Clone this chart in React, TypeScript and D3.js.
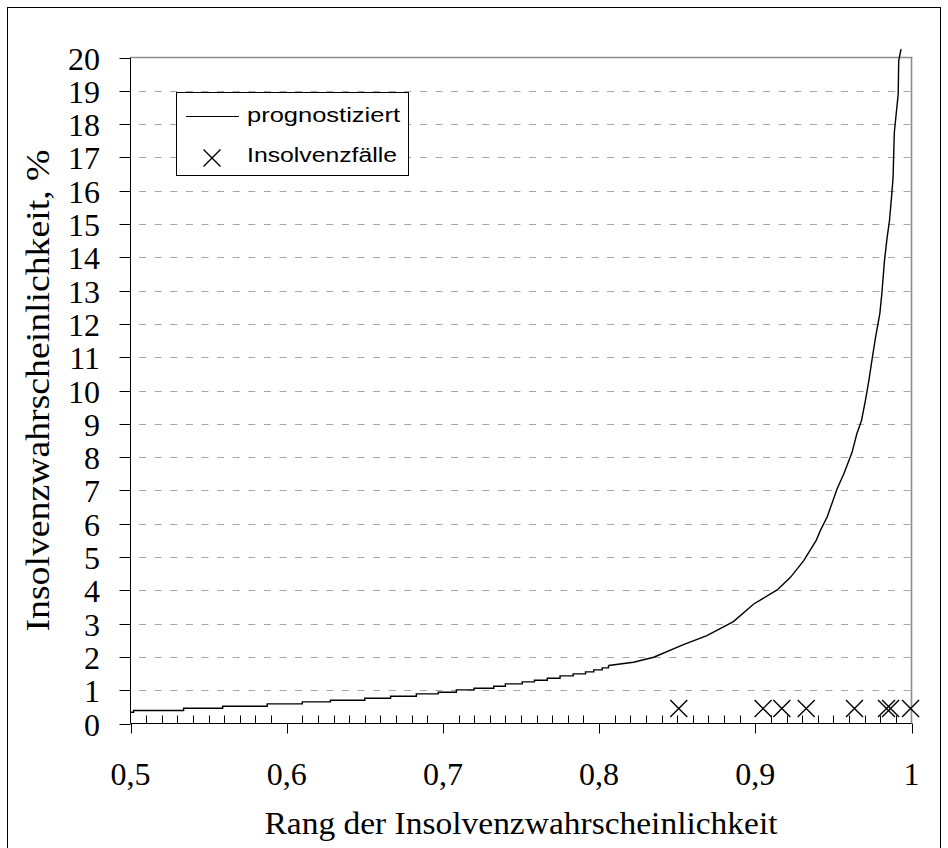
import React from "react";
import * as d3 from "d3";

// Step part of the predicted curve (rank, probability %)
const stepRank = [0.5, 0.502, 0.534, 0.559, 0.5875, 0.61, 0.628, 0.65, 0.6665, 0.683, 0.697, 0.7086, 0.72, 0.7326, 0.74, 0.7508, 0.7586, 0.7668, 0.775, 0.7834, 0.7913, 0.7966, 0.802, 0.806];
const stepProb = [0.34, 0.39, 0.46, 0.52, 0.59, 0.65, 0.70, 0.76, 0.82, 0.89, 0.94, 1.01, 1.06, 1.12, 1.19, 1.25, 1.30, 1.36, 1.43, 1.49, 1.55, 1.61, 1.67, 1.74];
// Steep upper part of the predicted curve
const upperRank = [0.806, 0.822, 0.835, 0.854, 0.869, 0.886, 0.899, 0.914, 0.9225, 0.931, 0.939, 0.9417, 0.946, 0.9524, 0.9567, 0.962, 0.965, 0.968, 0.9705, 0.9727, 0.9748, 0.977, 0.9797, 0.981, 0.9827, 0.9844, 0.9859, 0.9872, 0.9882, 0.989, 0.9904, 0.9915, 0.9918, 0.9933];
const upperProb = [1.74, 1.84, 1.99, 2.37, 2.64, 3.06, 3.59, 4.01, 4.39, 4.89, 5.5, 5.8, 6.2, 7.05, 7.5, 8.15, 8.7, 9.1, 9.7, 10.3, 10.95, 11.6, 12.3, 12.9, 13.9, 14.6, 15.1, 15.8, 16.4, 17.75, 18.4, 18.9, 19.9, 20.25];
// Insolvency cases
const caseRank = [0.851, 0.905, 0.917, 0.9326, 0.9635, 0.984, 0.9866, 0.9994];
const caseProb = [0.45, 0.45, 0.45, 0.45, 0.45, 0.45, 0.45, 0.45];

const xTicks = [0.5, 0.6, 0.7, 0.8, 0.9, 1.0];
const xTickLabels = ["0,5", "0,6", "0,7", "0,8", "0,9", "1"];
const yTicks = d3.range(0, 21);

const xTitle = "Rang der Insolvenzwahrscheinlichkeit";
const yTitle = "Insolvenzwahrscheinlichkeit, %";
const legendLine = "prognostiziert";
const legendCase = "Insolvenzfälle";

export default function App() {
  const L = 130.5, R = 911.5, T = 57.5, B = 723.5;
  const x = d3.scaleLinear().domain([0.5, 1]).range([L, R]);
  const y = d3.scaleLinear().domain([0, 20]).range([B, T]);
  const minorTicks = d3.range(51).map((i) => 0.5 + i * 0.01).filter((_, i) => i % 10 !== 0);

  const stepLine = d3
    .line<number>()
    .x((_, i) => x(stepRank[i]))
    .y((d) => y(d))
    .curve(d3.curveStepAfter)(stepProb);
  const upperLine = d3
    .line<number>()
    .x((_, i) => x(upperRank[i]))
    .y((d) => y(d))(upperProb);

  const serif = "'Liberation Serif', 'Times New Roman', serif";
  const sans = "'Liberation Sans', Arial, sans-serif";
  const cross = (cx: number, cy: number, h: number, key?: any) => (
    <path key={key} d={`M${cx - h},${cy - h}L${cx + h},${cy + h}M${cx - h},${cy + h}L${cx + h},${cy - h}`} stroke="#000" strokeWidth={1.4} fill="none" />
  );

  return (
    <svg width={948} height={848} style={{ position: "absolute", left: 0, top: 0, background: "#fff" }}>
      <rect x={7.5} y={7.5} width={933} height={860} fill="#fff" stroke="#000" strokeWidth={1} />
      {/* gridlines */}
      {yTicks.filter((t) => t > 0 && t < 20).map((t) => (
        <line key={t} x1={L} x2={R} y1={Math.round(y(t)) + 0.5} y2={Math.round(y(t)) + 0.5} stroke="#a6a6a6" strokeWidth={1} strokeDasharray="7 8.6" strokeDashoffset={7} />
      ))}
      {/* plot border top/right */}
      <line x1={L} x2={R + 1} y1={T} y2={T} stroke="#8c8c8c" strokeWidth={1.6} />
      <line x1={R} x2={R} y1={T} y2={B} stroke="#8c8c8c" strokeWidth={1.6} />
      {/* axes */}
      <line x1={L} x2={L} y1={T} y2={B} stroke="#000" strokeWidth={1} />
      <line x1={L} x2={R} y1={B} y2={B} stroke="#000" strokeWidth={1} />
      {yTicks.map((t) => (
        <g key={t}>
          <line x1={L - 11} x2={L} y1={Math.round(y(t)) + 0.5} y2={Math.round(y(t)) + 0.5} stroke="#000" />
          <text x={100} y={y(t) + 12} textAnchor="end" fontFamily={serif} fontSize={32} fill="#000">{t}</text>
        </g>
      ))}
      {minorTicks.map((t, i) => (
        <line key={i} x1={Math.round(x(t)) + 0.5} x2={Math.round(x(t)) + 0.5} y1={B - 8} y2={B} stroke="#000" />
      ))}
      {xTicks.map((t, i) => (
        <g key={t}>
          <line x1={Math.round(x(t)) + 0.5} x2={Math.round(x(t)) + 0.5} y1={B} y2={B + 10} stroke="#000" />
          <text x={x(t)} y={785} textAnchor="middle" fontFamily={serif} fontSize={32} fill="#000">{xTickLabels[i]}</text>
        </g>
      ))}
      {/* curve */}
      <path d={stepLine || ""} fill="none" stroke="#000" strokeWidth={1.4} />
      <path d={upperLine || ""} fill="none" stroke="#000" strokeWidth={1.4} />
      {/* cases */}
      {caseRank.map((r, i) => cross(x(r), y(caseProb[i]), 8.5, i))}
      {/* legend */}
      <rect x={176.5} y={92.5} width={232} height={83} fill="#fff" stroke="#000" strokeWidth={1} />
      <line x1={186} x2={239} y1={116.5} y2={116.5} stroke="#000" strokeWidth={1.2} />
      <text x={247} y={122} fontFamily={sans} fontSize={20} textLength={153} lengthAdjust="spacingAndGlyphs" fill="#000">{legendLine}</text>
      {cross(212, 158, 8.5)}
      <text x={247} y={162} fontFamily={sans} fontSize={20} textLength={150} lengthAdjust="spacingAndGlyphs" fill="#000">{legendCase}</text>
      {/* titles */}
      <text x={(L + R) / 2} y={834} textAnchor="middle" fontFamily={serif} fontSize={32} textLength={513} lengthAdjust="spacingAndGlyphs" fill="#000">{xTitle}</text>
      <text transform={`translate(49,${(T + B) / 2}) rotate(-90)`} textAnchor="middle" fontFamily={serif} fontSize={34} textLength={482} lengthAdjust="spacingAndGlyphs" fill="#000">{yTitle}</text>
    </svg>
  );
}
